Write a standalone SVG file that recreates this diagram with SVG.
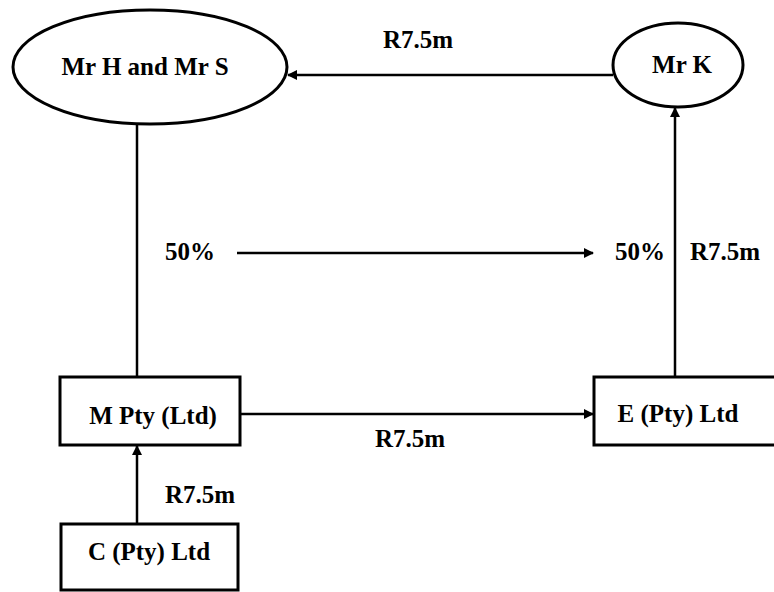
<svg xmlns="http://www.w3.org/2000/svg" width="774" height="592" viewBox="0 0 774 592">
<style>
.shape{fill:#fff;stroke:#000;stroke-width:3}
.conn{fill:none;stroke:#000;stroke-width:2.5}
text{font-family:"Liberation Serif","Times New Roman",serif;font-weight:bold;font-size:25px;fill:#000}
.c{text-anchor:middle}
</style>
<defs>
<marker id="arr" viewBox="0 0 10 10" refX="9" refY="5" markerWidth="4" markerHeight="4" orient="auto" markerUnits="strokeWidth">
<path d="M0,0 L10,5 L0,10 z" fill="#000"/>
</marker>
</defs>
<rect width="774" height="592" fill="#fff"/>
<g id="connectors">
<line class="conn" x1="613" y1="75" x2="288" y2="75" marker-end="url(#arr)"/>
<line class="conn" x1="137" y1="123" x2="137" y2="377"/>
<line class="conn" x1="675" y1="377" x2="675" y2="108" marker-end="url(#arr)"/>
<line class="conn" x1="237" y1="253" x2="593" y2="253" marker-end="url(#arr)"/>
<line class="conn" x1="240" y1="414" x2="593" y2="414" marker-end="url(#arr)"/>
<line class="conn" x1="137" y1="524" x2="137" y2="446" marker-end="url(#arr)"/>
<text x="418" y="48" class="c">R7.5m</text>
<text x="165" y="260">50%</text>
<text x="615" y="260">50%</text>
<text x="690" y="260">R7.5m</text>
<text x="375" y="447">R7.5m</text>
<text x="165" y="503">R7.5m</text>
</g>
<g id="mr-h-and-mr-s">
<ellipse class="shape" cx="150" cy="67" rx="137" ry="57"/>
<text x="145" y="75" class="c">Mr H and Mr S</text>
</g>
<g id="mr-k">
<ellipse class="shape" cx="678" cy="65" rx="65" ry="42"/>
<text x="682" y="73" class="c">Mr K</text>
</g>
<g id="m-pty-ltd">
<rect class="shape" x="60" y="377" width="180" height="68"/>
<text x="153" y="424" class="c">M Pty (Ltd)</text>
</g>
<g id="e-pty-ltd">
<rect class="shape" x="594" y="377" width="190" height="68"/>
<text x="678" y="422" class="c">E (Pty) Ltd</text>
</g>
<g id="c-pty-ltd">
<rect class="shape" x="61" y="524" width="177" height="66"/>
<text x="149" y="560" class="c">C (Pty) Ltd</text>
</g>
</svg>
